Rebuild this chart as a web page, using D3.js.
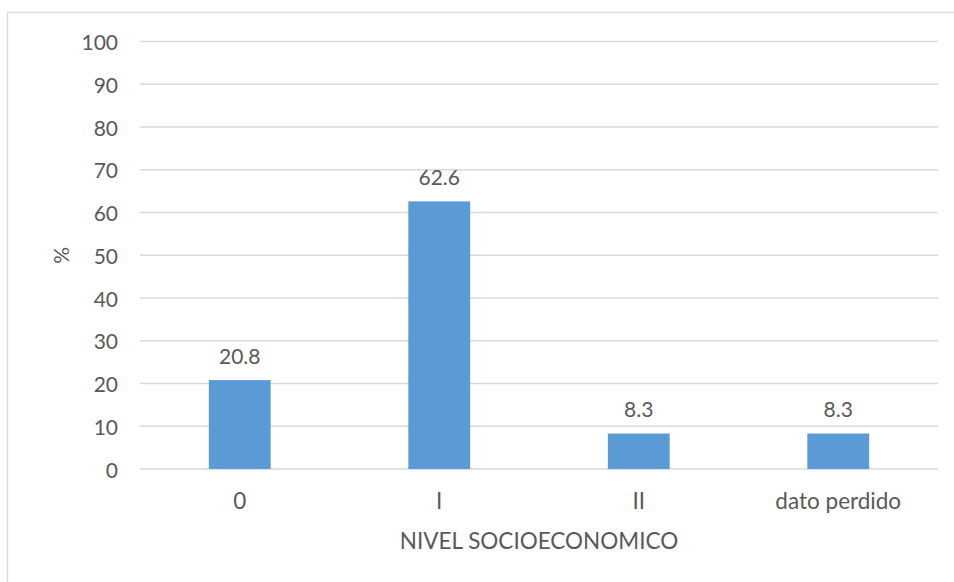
<!DOCTYPE html>
<html>
<head>
<meta charset="utf-8">
<script src="https://cdn.jsdelivr.net/npm/d3@7"></script>
<style>
  html, body { margin: 0; padding: 0; background: #fff; }
  svg text { font-family: Lato, "Open Sans", sans-serif; fill: #595959; }
</style>
</head>
<body>
<div id="chart"></div>
<script>
// categories and values
const categories = ["0", "I", "II", "dato perdido"];
const values = [20.8, 62.6, 8.3, 8.3];
const yTicks = [0, 10, 20, 30, 40, 50, 60, 70, 80, 90, 100];
const xTitle = "NIVEL SOCIOECONOMICO";
const yTitle = "%";

const width = 954, height = 582;
const margin = { left: 140, right: 16, top: 41.5, bottom: 113 };

const svg = d3.select("#chart").append("svg")
  .attr("width", width)
  .attr("height", height);

// chart frame
svg.append("rect")
  .attr("x", 7.5).attr("y", 12.5)
  .attr("width", 970).attr("height", 620)
  .attr("fill", "none")
  .attr("stroke", "#d9d9d9")
  .attr("stroke-width", 1.3);

const x = d3.scaleBand()
  .domain(categories)
  .range([margin.left, width - margin.right])
  .paddingInner(0.69)
  .paddingOuter(0.345);

const y = d3.scaleLinear()
  .domain([0, 100])
  .range([height - margin.bottom, margin.top]);

// gridlines
svg.append("g")
  .selectAll("line")
  .data(yTicks)
  .join("line")
  .attr("x1", margin.left)
  .attr("x2", width - margin.right)
  .attr("y1", d => y(d))
  .attr("y2", d => y(d))
  .attr("stroke", "#d9d9d9")
  .attr("stroke-width", 1.5);

// y tick labels
svg.append("g")
  .selectAll("text")
  .data(yTicks)
  .join("text")
  .attr("x", 118)
  .attr("y", d => y(d))
  .attr("text-anchor", "end")
  .attr("dominant-baseline", "central")
  .style("font-size", "21px")
  .text(d => d);

// bars
svg.append("g")
  .selectAll("rect")
  .data(values)
  .join("rect")
  .attr("x", (d, i) => x(categories[i]))
  .attr("width", x.bandwidth())
  .attr("y", d => y(d))
  .attr("height", d => y(0) - y(d))
  .attr("fill", "#5b9bd5");

// value labels
svg.append("g")
  .selectAll("text")
  .data(values)
  .join("text")
  .attr("x", (d, i) => x(categories[i]) + x.bandwidth() / 2)
  .attr("y", d => y(d) - 25)
  .attr("text-anchor", "middle")
  .attr("dominant-baseline", "central")
  .style("font-size", "21px")
  .text(d => d.toFixed(1));

// category labels
svg.append("g")
  .selectAll("text")
  .data(categories)
  .join("text")
  .attr("x", d => x(d) + x.bandwidth() / 2)
  .attr("y", 500)
  .attr("text-anchor", "middle")
  .attr("dominant-baseline", "central")
  .style("font-size", "22.5px")
  .text(d => d);

// axis titles
svg.append("text")
  .attr("x", (margin.left + width - margin.right) / 2)
  .attr("y", 540)
  .attr("text-anchor", "middle")
  .attr("dominant-baseline", "central")
  .style("font-size", "22.5px")
  .text(xTitle);

svg.append("text")
  .attr("transform", `translate(60, ${y(50)}) rotate(-90)`)
  .attr("text-anchor", "middle")
  .attr("dominant-baseline", "central")
  .style("font-size", "21px")
  .text(yTitle);
</script>
</body>
</html>
